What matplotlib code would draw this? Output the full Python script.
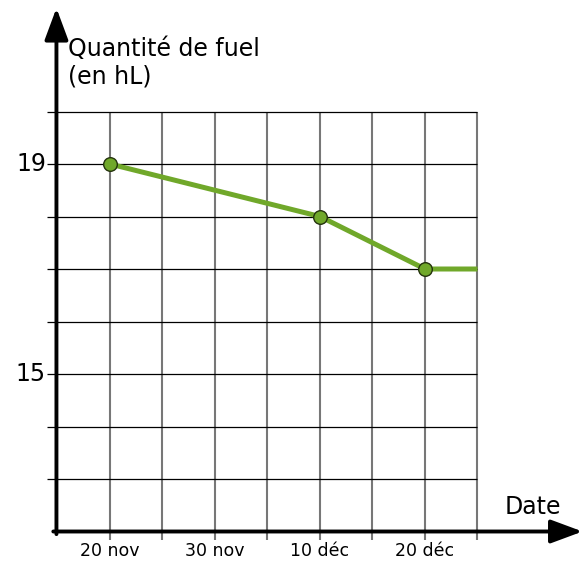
import matplotlib
matplotlib.use("Agg")
import matplotlib.pyplot as plt
from matplotlib.patches import FancyArrowPatch

# Data (x in days: 20 = 20 nov, 30 = 30 nov, 40 = 10 déc, 50 = 20 déc)
dates = [20, 40, 50]
values = [19, 18, 17]
line_end = 55  # flat continuation after last point
xtick_pos = [20, 30, 40, 50]
xtick_labels = ["20 nov", "30 nov", "10 déc", "20 déc"]
ytick_pos = [19, 15]
ytick_labels = ["19", "15"]
vgrid = [20, 25, 30, 35, 40, 45, 50, 55]
hgrid = [13, 14, 15, 16, 17, 18, 19, 20]

fig = plt.figure(figsize=(5.84, 5.63), dpi=100)
ax = fig.add_axes([0, 0, 1, 1])
ax.set_xlim(9.524, 65.143)
ax.set_ylim(11.4, 22.124)
ax.axis("off")

# grid
ax.vlines(vgrid, 11.84, 20, colors="#777777", linewidth=1.5, zorder=1)
ax.hlines(hgrid, 14.0, 55, colors="black", linewidth=0.9, zorder=1)

# axes arrows
style = "-|>,head_length=0.97,head_width=0.36"
ax.add_patch(FancyArrowPatch((14.9, 11.95), (14.9, 21.97), arrowstyle=style,
                             mutation_scale=20, color="black", linewidth=2.8, zorder=3,
                             shrinkA=0, shrinkB=0))
ax.add_patch(FancyArrowPatch((14.6, 12.0), (65.0, 12.0), arrowstyle=style,
                             mutation_scale=20, color="black", linewidth=2.8, zorder=3,
                             shrinkA=0, shrinkB=0))

# data line
ax.plot(dates + [line_end], values + [values[-1]], color="#70a82a", linewidth=3.6,
        solid_capstyle="butt", zorder=4)
ax.plot(dates, values, linestyle="none", marker="o", markersize=9.8,
        markerfacecolor="#70a82a", markeredgecolor="#24330d", markeredgewidth=1.0, zorder=5)

# tick labels
for p, l in zip(xtick_pos, xtick_labels):
    ax.text(p, 11.63, l, ha="center", va="center", fontsize=12.5, color="black")
for p, l in zip(ytick_pos, ytick_labels):
    ax.text(13.9, p, l, ha="right", va="center", fontsize=17, color="black")

# axis titles
ax.text(16.0, 21.42, "Quantité de fuel\n(en hL)", ha="left", va="top", fontsize=17,
        linespacing=1.2, color="black")
ax.text(57.6, 12.47, "Date", ha="left", va="center", fontsize=17, color="black")

fig.savefig("out.png", dpi=100)
